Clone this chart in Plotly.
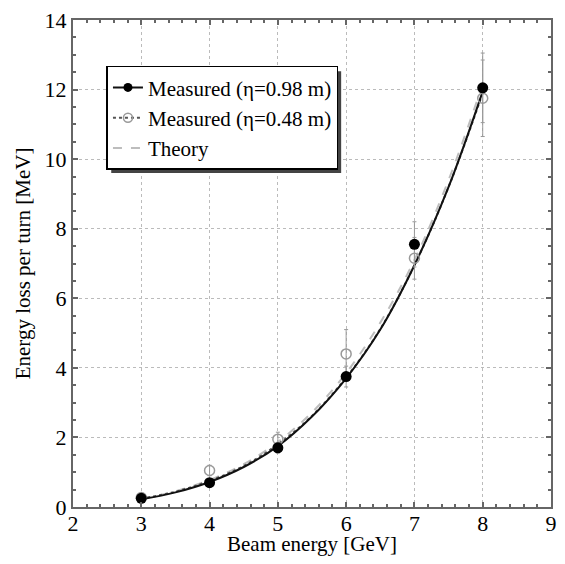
import plotly.graph_objects as go

# measured points
beam_gev = [3, 4, 5, 6, 7, 8]
loss_098 = [0.25, 0.7, 1.7, 3.75, 7.55, 12.05]
err_098 = [0.05, 0.08, 0.15, 0.3, 0.65, 1.0]
loss_048 = [0.27, 1.05, 1.95, 4.4, 7.15, 11.75]
err_048 = [0.05, 0.15, 0.2, 0.7, 0.6, 1.1]

# curves
curve_x = [3, 3.5, 4, 4.5, 5, 5.5, 6, 6.5, 7, 7.5, 8]
fit_098 = [0.22, 0.42, 0.72, 1.15, 1.75, 2.6, 3.7, 5.1, 6.95, 9.2, 11.95]
fit_048 = [0.24, 0.44, 0.75, 1.18, 1.8, 2.62, 3.72, 5.12, 6.95, 9.2, 11.9]
theory = [0.24, 0.45, 0.78, 1.23, 1.87, 2.72, 3.85, 5.3, 7.1, 9.4, 12.15]

labels = ["Measured (\u03b7=0.98 m)", "Measured (\u03b7=0.48 m)", "Theory"]

SERIF = "Liberation Serif, Times New Roman, serif"

fig = go.Figure()

# curves
fig.add_trace(go.Scatter(x=curve_x, y=theory, mode="lines", line=dict(color="#bdbdbd", width=2, dash="dash", shape="spline"), showlegend=False))
fig.add_trace(go.Scatter(x=curve_x, y=fit_048, mode="lines", line=dict(color="#555", width=2, dash="dot", shape="spline"), showlegend=False))
fig.add_trace(go.Scatter(x=curve_x, y=fit_098, mode="lines", line=dict(color="#111", width=2, shape="spline"), showlegend=False))

# points with error bars
fig.add_trace(go.Scatter(x=beam_gev, y=loss_048, mode="markers",
                         marker=dict(symbol="circle-open", size=10, color="#999", line=dict(width=1.5)),
                         error_y=dict(type="data", array=err_048, color="#999", thickness=1, width=2),
                         showlegend=False))
fig.add_trace(go.Scatter(x=beam_gev, y=loss_098, mode="markers",
                         marker=dict(symbol="circle", size=11, color="black"),
                         error_y=dict(type="data", array=err_098, color="#999", thickness=1, width=2),
                         showlegend=False))

# legend entries
fig.add_trace(go.Scatter(x=[None], y=[None], mode="lines+markers", name=labels[0],
                         line=dict(color="#111", width=2), marker=dict(symbol="circle", size=9, color="black")))
fig.add_trace(go.Scatter(x=[None], y=[None], mode="lines+markers", name=labels[1],
                         line=dict(color="#555", width=2, dash="dot"),
                         marker=dict(symbol="circle-open", size=9, color="#999", line=dict(width=1.5))))
fig.add_trace(go.Scatter(x=[None], y=[None], mode="lines", name=labels[2],
                         line=dict(color="#bdbdbd", width=2, dash="dash")))

axis_common = dict(
    showline=True, linecolor="#666", linewidth=2, mirror="ticks",
    ticks="inside", tickcolor="#666", ticklen=5, tickwidth=1.5,
    showgrid=True, gridcolor="#bbb", griddash="dot", gridwidth=1,
    zeroline=False, ticklabeloverflow="allow",
    tickfont=dict(family=SERIF, size=22, color="black"),
    title_font=dict(family=SERIF, size=21, color="black"),
)

fig.update_xaxes(range=[2, 9], dtick=1, minor=dict(dtick=0.2, ticks="inside", ticklen=3, tickcolor="#666", showgrid=False),
                 title_text="Beam energy [GeV]", title_standoff=9, ticklabelstandoff=-4,
                 automargin=False, **axis_common)
fig.update_yaxes(range=[0, 14], dtick=2, minor=dict(dtick=0.5, ticks="inside", ticklen=3, tickcolor="#666", showgrid=False),
                 title_text="Energy loss per turn [MeV]", title_standoff=8,
                 automargin=False, **axis_common)

# legend drop shadow
fig.add_shape(type="rect", xref="paper", yref="paper", x0=0.08, x1=0.561, y0=0.686, y1=0.895,
              fillcolor="#444", line=dict(width=0), layer="above")

# page has an 8px body margin, so the figure is shrunk to keep it inside the window
fig.update_layout(
    width=557, height=548,
    margin=dict(l=65, r=14, t=12, b=49),
    plot_bgcolor="white", paper_bgcolor="white",
    font=dict(family=SERIF, color="black"),
    legend=dict(x=0.07, y=0.906, xanchor="left", yanchor="top",
                bgcolor="white", bordercolor="black", borderwidth=1.5,
                font=dict(family=SERIF, size=21, color="black"),
                itemwidth=30, tracegroupgap=0),
)

fig.write_html("out.html")
